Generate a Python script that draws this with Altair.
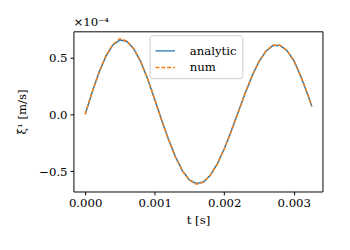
import altair as alt
import pandas as pd

t_ms = [0.0, 0.0001, 0.0002, 0.0003, 0.0004, 0.0005, 0.0006, 0.0007, 0.0008, 0.0009,
        0.0010, 0.0011, 0.0012, 0.0013, 0.0014, 0.0015, 0.0016, 0.0017, 0.0018, 0.0019,
        0.0020, 0.0021, 0.0022, 0.0023, 0.0024, 0.0025, 0.0026, 0.0027, 0.0028, 0.0029,
        0.0030, 0.0031, 0.0032, 0.00326]
analytic = [0.0, 0.193, 0.369, 0.512, 0.610, 0.652, 0.640, 0.574, 0.460, 0.308,
            0.131, -0.052, -0.223, -0.375, -0.496, -0.576, -0.607, -0.594, -0.534, -0.435,
            -0.303, -0.149, 0.017, 0.183, 0.336, 0.462, 0.554, 0.603, 0.605, 0.561,
            0.473, 0.335, 0.175, 0.068]
num = [0.0, 0.195, 0.371, 0.515, 0.614, 0.664, 0.643, 0.576, 0.461, 0.309,
       0.131, -0.053, -0.224, -0.376, -0.498, -0.578, -0.612, -0.596, -0.535, -0.436,
       -0.304, -0.150, 0.017, 0.184, 0.338, 0.464, 0.556, 0.606, 0.607, 0.562,
       0.474, 0.336, 0.176, 0.068]
series_names = ["analytic", "num"]
colors = ["#1f77b4", "#ff7f0e"]
dashes = [[1, 0], [4, 2]]

rows = []
for i, t in enumerate(t_ms):
    rows.append({"t": t, "v": analytic[i], "series": "analytic"})
for i, t in enumerate(t_ms):
    rows.append({"t": t, "v": num[i], "series": "num"})
df = pd.DataFrame(rows)

FONT = "DejaVu Serif"
FS = 12

legend = alt.Legend(title=None, orient="none", legendX=78, legendY=4,
                    symbolType="stroke", symbolStrokeWidth=1.5,
                    symbolSize=400, labelFontSize=FS, labelFont=FONT, labelColor="black",
                    strokeColor="#cccccc", fillColor="white",
                    cornerRadius=3, padding=5, rowPadding=0, labelOffset=14)

lines = alt.Chart(df).mark_line(strokeWidth=1.5, clip=True).encode(
    x=alt.X("t:Q", scale=alt.Scale(domain=[-0.000169, 0.003413], nice=False, zero=False),
            axis=alt.Axis(values=[0, 0.001, 0.002, 0.003], format=".3f", title="t [s]")),
    y=alt.Y("v:Q", scale=alt.Scale(domain=[-0.677, 0.728], nice=False, zero=False),
            axis=alt.Axis(values=[-0.5, 0, 0.5], format=".1f", title="ξ̇¹ [m/s]")),
    color=alt.Color("series:N", scale=alt.Scale(domain=series_names, range=colors), legend=legend),
    strokeDash=alt.StrokeDash("series:N", scale=alt.Scale(domain=series_names, range=dashes), legend=legend),
    detail="series:N",
)

offset = alt.Chart(pd.DataFrame({"s": ["×10⁻⁴"]})).mark_text(
    align="left", baseline="alphabetic", font=FONT, fontSize=FS, color="black"
).encode(x=alt.value(0), y=alt.value(-5), text="s:N")

chart = alt.layer(lines, offset).properties(
    width=255, height=164,
    autosize=alt.AutoSizeParams(type="none"),
    padding={"left": 67, "top": 21, "right": 20, "bottom": 57},
).configure(font=FONT).configure_view(stroke="black", strokeWidth=1).configure_axis(
    grid=False, domain=False, tickColor="black", tickSize=3.5, labelColor="black",
    labelFont=FONT, labelFontSize=FS, titleFont=FONT, titleFontSize=FS,
    titleFontWeight="normal", titleColor="black", labelPadding=3,
).configure_axisX(titlePadding=6).configure_axisY(titlePadding=10)

chart.save("out.html", embed_options={"renderer": "svg", "actions": False})
